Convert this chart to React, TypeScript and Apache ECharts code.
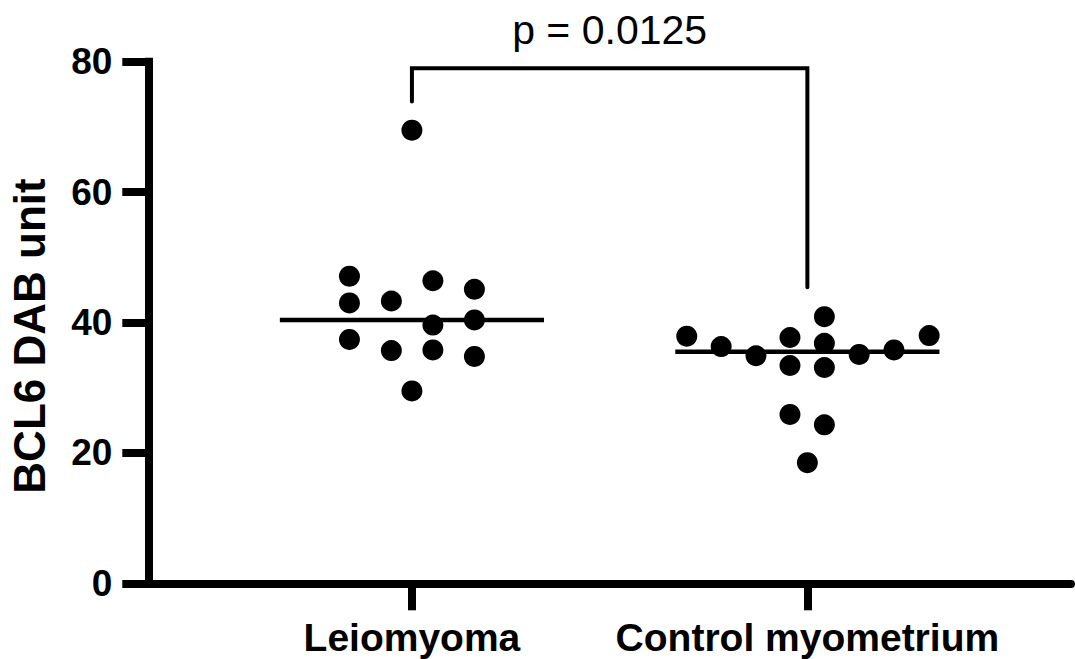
import React, { useEffect, useRef } from "react";
import * as echarts from "echarts";

const categories = ["Leiomyoma", "Control myometrium"];
const categoryPositions = [1, 2];

const leiomyomaValues = [69.5, 47.1, 43.0, 37.4, 43.3, 35.7, 46.4, 39.6, 35.8, 45.1, 40.4, 34.8, 29.5];
const leiomyomaOffsets = [0, -0.158, -0.158, -0.158, -0.052, -0.052, 0.053, 0.053, 0.053, 0.158, 0.158, 0.158, 0];

const controlValues = [37.9, 36.3, 34.9, 37.7, 33.4, 25.9, 40.9, 36.8, 33.1, 24.3, 18.5, 35.1, 35.8, 38.0];
const controlOffsets = [-0.305, -0.218, -0.13, -0.044, -0.044, -0.044, 0.043, 0.043, 0.043, 0.043, 0, 0.131, 0.219, 0.308];

const medianValues = [40.4, 35.5];
const medianHalfWidth = 0.334;

const bracketLeftBottom = 73.9;
const bracketTop = 79.0;
const bracketRightBottom = 45.4;
const pValueText = "p = 0.0125";

const yTicks = [0, 20, 40, 60, 80];

const FONT = "'Liberation Sans', Arial, Helvetica, sans-serif";

export default function App() {
  const ref = useRef<HTMLDivElement>(null);

  useEffect(() => {
    if (!ref.current) return;
    const chart = echarts.init(ref.current, null, { renderer: "svg" });

    const leioData = leiomyomaValues.map((v, i) => [categoryPositions[0] + leiomyomaOffsets[i], v]);
    const ctrlData = controlValues.map((v, i) => [categoryPositions[1] + controlOffsets[i], v]);

    const medianSeries = medianValues.map((m, i) => ({
      type: "line",
      data: [
        [categoryPositions[i] - medianHalfWidth, m],
        [categoryPositions[i] + medianHalfWidth, m],
      ],
      symbol: "none",
      lineStyle: { color: "#000", width: 4.5, opacity: 1 },
      z: 3,
    }));

    const option: any = {
      animation: false,
      backgroundColor: "#fff",
      grid: { left: 148.3, right: 4, top: 61.7, bottom: 75.7, containLabel: false },
      xAxis: {
        type: "value",
        min: 1 / 3,
        max: 8 / 3,
        splitLine: { show: false },
        axisLine: { show: true, onZero: false, lineStyle: { color: "#000", width: 8 } },
        axisTick: {
          show: true,
          customValues: categoryPositions,
          length: 27,
          lineStyle: { color: "#000", width: 8 },
        },
        axisLabel: {
          show: true,
          customValues: categoryPositions,
          formatter: (v: number) => categories[Math.round(v) - 1] ?? "",
          margin: 35,
          color: "#000",
          fontFamily: FONT,
          fontWeight: "bold",
          fontSize: 39,
        },
      },
      yAxis: {
        type: "value",
        min: 0,
        max: 80,
        interval: 20,
        splitLine: { show: false },
        axisLine: { show: true, lineStyle: { color: "#000", width: 8, cap: "square" } },
        axisTick: { show: true, length: 26, lineStyle: { color: "#000", width: 8 } },
        axisLabel: {
          show: true,
          margin: 36,
          color: "#000",
          fontFamily: FONT,
          fontWeight: "bold",
          fontSize: 37,
          customValues: yTicks,
        },
      },
      graphic: [
        {
          type: "text",
          x: 29,
          y: 336,
          rotation: Math.PI / 2,
          style: {
            text: "BCL6 DAB unit",
            fill: "#000",
            font: `bold 44px ${FONT}`,
            textAlign: "center",
            textVerticalAlign: "middle",
          },
        },
      ],
      series: [
        {
          type: "scatter",
          data: leioData,
          symbol: "circle",
          symbolSize: 21,
          itemStyle: { color: "#000", opacity: 1 },
          z: 4,
        },
        {
          type: "scatter",
          data: ctrlData,
          symbol: "circle",
          symbolSize: 21,
          itemStyle: { color: "#000", opacity: 1 },
          z: 4,
        },
        ...medianSeries,
        {
          type: "line",
          data: [
            [categoryPositions[0], bracketLeftBottom],
            [categoryPositions[0], bracketTop],
            [categoryPositions[1], bracketTop],
            [categoryPositions[1], bracketRightBottom],
          ],
          symbol: "none",
          lineStyle: { color: "#000", width: 4, cap: "round", join: "miter", opacity: 1 },
          z: 3,
        },
        {
          type: "scatter",
          data: [[(categoryPositions[0] + categoryPositions[1]) / 2, bracketTop]],
          symbolSize: 0,
          itemStyle: { opacity: 1 },
          label: {
            show: true,
            position: "top",
            distance: 18,
            formatter: pValueText,
            color: "#000",
            opacity: 1,
            fontFamily: FONT,
            fontSize: 41,
            fontWeight: "normal",
          },
          z: 5,
        },
      ],
    };

    chart.setOption(option);
    return () => chart.dispose();
  }, []);

  return (
    <div
      ref={ref}
      style={{ position: "fixed", left: 0, top: 0, width: 1075, height: 659, background: "#fff" }}
    />
  );
}
